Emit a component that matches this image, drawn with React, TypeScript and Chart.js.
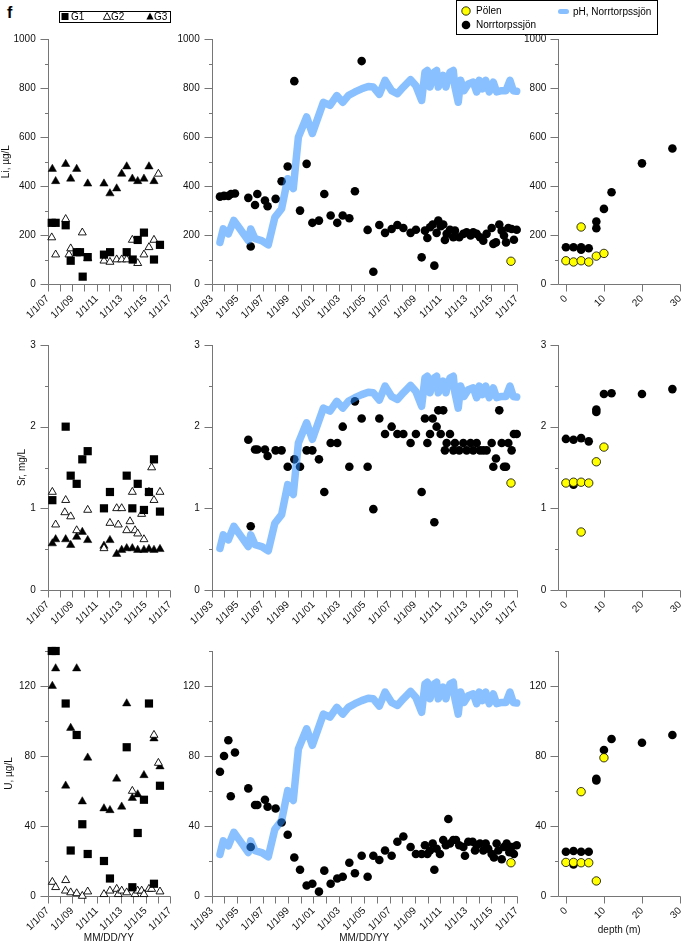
import React, { useEffect, useRef } from 'react';
import { Chart, registerables } from 'chart.js';

Chart.register(...registerables);

type Pt = [number, number];

// ---------------- DATA ----------------
// Left column: group samples (decimal year, value)
const liG1: Pt[] = [[2007.33,250],[2007.65,250],[2008.47,240],[2008.88,95],[2009.37,130],[2009.64,130],[2009.86,30],[2010.27,110],[2011.6,120],[2012.1,130],[2013.46,130],[2013.95,100],[2014.36,180],[2014.87,210],[2015.69,100],[2016.18,160]];
const liG2: Pt[] = [[2007.33,190],[2007.65,120],[2008.47,265],[2008.74,120],[2008.88,145],[2009.83,210],[2010.27,105],[2011.6,95],[2012.09,90],[2012.64,100],[2013.05,100],[2013.46,100],[2013.92,180],[2014.36,85],[2014.87,120],[2015.28,150],[2015.69,180],[2016.05,450]];
const liG3: Pt[] = [[2007.38,470],[2007.65,420],[2008.47,490],[2008.88,430],[2009.37,470],[2010.27,410],[2011.6,410],[2012.09,370],[2012.64,390],[2013.05,450],[2013.46,480],[2013.92,430],[2014.36,420],[2014.87,430],[2015.28,480],[2015.69,420]];

const srG1: Pt[] = [[2007.38,1.1],[2008.47,2.0],[2008.88,1.4],[2009.37,1.3],[2009.83,1.6],[2010.27,1.7],[2011.6,1.0],[2012.09,1.2],[2013.46,1.4],[2013.92,1.0],[2014.36,1.3],[2014.87,0.98],[2015.28,1.2],[2015.69,1.6],[2016.18,0.96]];
const srG2: Pt[] = [[2007.38,1.2],[2007.65,0.8],[2008.47,1.1],[2008.4,0.95],[2008.88,0.9],[2009.37,0.73],[2010.27,0.98],[2011.6,0.51],[2012.09,0.82],[2012.64,1.0],[2012.77,0.8],[2013.05,1.0],[2013.46,0.73],[2013.73,0.84],[2013.92,1.2],[2014.14,0.73],[2014.36,0.69],[2014.68,0.93],[2014.87,0.62],[2015.28,1.2],[2015.5,1.5],[2015.69,1.1],[2016.18,1.2]];
const srG3: Pt[] = [[2007.38,0.57],[2007.65,0.62],[2008.47,0.62],[2008.88,0.55],[2009.37,0.65],[2009.83,0.71],[2010.27,0.61],[2011.6,0.54],[2012.09,0.61],[2012.64,0.44],[2013.05,0.49],[2013.46,0.51],[2013.92,0.51],[2014.36,0.49],[2014.87,0.49],[2015.28,0.5],[2015.69,0.49],[2016.18,0.5]];

const uG1: Pt[] = [[2007.33,140],[2007.65,140],[2008.47,110],[2008.88,26],[2009.37,92],[2009.83,41],[2010.27,24],[2011.6,20],[2012.09,10],[2013.46,85],[2013.92,5],[2014.36,36],[2014.87,55],[2015.28,110],[2015.69,7],[2016.18,63]];
const uG2: Pt[] = [[2007.38,8],[2007.65,5],[2008.47,9],[2008.45,3],[2008.88,2],[2009.37,1.5],[2009.83,0],[2010.27,2.5],[2011.6,1],[2012.09,3],[2012.64,4],[2012.77,1],[2013.05,3],[2013.46,2],[2013.92,60],[2014.14,1],[2014.36,3],[2014.68,3],[2014.87,1],[2015.28,4],[2015.5,4],[2015.69,92],[2016.05,76],[2016.18,2.5]];
const uG3: Pt[] = [[2007.38,120],[2007.65,130],[2008.47,63],[2008.88,96],[2009.37,130],[2009.83,54],[2010.27,79],[2011.6,50],[2012.09,49],[2012.64,67],[2013.05,51],[2013.46,110],[2013.92,56],[2014.36,58],[2014.87,69],[2015.69,90],[2016.18,74]];

// Middle column: Norrtorpssjön time series (decimal year, value)
const liNorr: Pt[] = [[1993.65,357],[1993.97,360],[1994.31,360],[1994.52,368],[1994.83,370],[1995.88,352],[1996.07,153],[1996.41,323],[1996.59,368],[1997.19,341],[1997.4,318],[1998.03,348],[1998.5,420],[1998.98,480],[1999.5,829],[1999.95,300],[2000.47,491],[2000.92,250],[2001.44,259],[2001.86,368],[2002.36,280],[2002.88,250],[2003.31,280],[2003.83,269],[2004.27,379],[2004.8,911],[2005.27,221],[2005.72,50],[2006.19,241],[2006.64,209],[2007.16,225],[2007.61,241],[2008.08,229],[2008.65,209],[2009.07,222],[2009.52,109],[2009.78,218],[2009.97,188],[2010.18,232],[2010.39,243],[2010.52,75],[2010.7,209],[2010.83,259],[2011.02,236],[2011.22,243],[2011.35,180],[2011.49,205],[2011.75,222],[2012.01,191],[2012.14,218],[2012.48,191],[2012.8,205],[2013.06,211],[2013.37,198],[2013.58,211],[2013.85,205],[2014.11,191],[2014.37,177],[2014.63,205],[2015.03,229],[2015.16,164],[2015.37,170],[2015.63,243],[2015.82,218],[2016.0,198],[2016.16,170],[2016.34,229],[2016.6,225],[2016.78,181],[2017.0,222]];
const srNorr: Pt[] = [[1995.88,1.84],[1996.07,0.78],[1996.41,1.72],[1996.59,1.72],[1997.19,1.72],[1997.4,1.64],[1998.03,1.71],[1998.5,1.71],[1998.98,1.51],[1999.5,1.6],[1999.95,1.51],[2000.47,1.71],[2000.92,1.71],[2001.44,1.6],[2001.86,1.2],[2002.36,1.8],[2002.88,1.8],[2003.31,2.0],[2003.83,1.51],[2004.27,2.31],[2004.8,2.1],[2005.27,1.51],[2005.72,0.99],[2006.19,2.1],[2006.64,1.91],[2007.16,2.0],[2007.61,1.91],[2008.08,1.91],[2008.65,1.8],[2009.07,1.91],[2009.52,1.2],[2009.78,2.1],[2009.97,1.8],[2010.18,1.91],[2010.39,2.1],[2010.52,0.83],[2010.7,2.0],[2010.83,2.2],[2011.02,1.91],[2011.22,2.2],[2011.35,1.71],[2011.49,1.8],[2011.75,1.91],[2012.01,1.71],[2012.14,1.8],[2012.48,1.71],[2012.8,1.8],[2013.06,1.71],[2013.37,1.8],[2013.58,1.71],[2013.85,1.8],[2014.11,1.71],[2014.37,1.71],[2014.63,1.71],[2015.03,1.8],[2015.16,1.51],[2015.37,1.61],[2015.63,2.2],[2015.82,1.8],[2016.0,1.51],[2016.16,1.51],[2016.34,1.8],[2016.6,1.71],[2016.78,1.91],[2017.0,1.91]];
const uNorr: Pt[] = [[1993.65,71],[1993.97,80],[1994.31,89],[1994.5,57],[1994.83,82],[1995.88,61.5],[1996.07,28],[1996.41,52],[1996.59,52],[1997.19,55],[1997.4,51],[1998.03,50],[1998.5,42],[1998.98,35],[1999.5,22],[1999.95,15],[2000.47,6],[2000.92,7],[2001.44,2.5],[2001.86,14.5],[2002.36,7],[2002.88,10],[2003.31,11],[2003.83,19],[2004.27,13],[2004.8,23],[2005.27,11],[2005.72,23],[2006.19,20.6],[2006.64,26],[2007.16,23],[2007.61,31],[2008.08,34],[2008.65,28],[2009.07,24],[2009.52,24],[2009.78,29],[2009.97,24],[2010.18,26],[2010.39,30],[2010.52,15],[2010.7,27],[2010.96,24],[2011.22,32],[2011.43,29],[2011.62,44],[2011.75,30],[2012.01,32],[2012.22,32],[2012.48,29],[2012.8,28],[2012.93,23],[2013.19,31],[2013.53,31],[2013.72,26],[2013.85,29],[2014.11,30],[2014.37,26],[2014.56,30],[2014.76,27],[2015.03,24],[2015.21,22],[2015.42,30],[2015.55,26],[2015.82,21],[2016.0,28],[2016.21,30],[2016.42,25],[2016.6,28],[2016.78,24],[2017.0,29]];
const liPolen: Pt[] = [[2016.55,93]];
const srPolen: Pt[] = [[2016.55,1.31]];
const uPolen: Pt[] = [[2016.55,19]];

// pH of Norrtorpssjön (decimal year, pH) on a hidden 4–8 axis
const phNorr: Pt[] = [[1993.65,4.68],[1993.91,4.9],[1994.31,4.82],[1994.74,5.04],[1995.23,4.9],[1995.88,4.71],[1996.07,4.9],[1996.41,4.74],[1996.93,4.71],[1997.45,4.64],[1997.97,5.09],[1998.5,5.23],[1998.98,5.72],[1999.42,5.56],[1999.82,6.4],[2000.47,6.73],[2000.92,6.46],[2001.79,6.97],[2002.31,6.92],[2002.84,7.08],[2003.31,6.97],[2003.75,7.08],[2004.27,7.14],[2004.8,7.19],[2005.32,7.23],[2005.72,7.22],[2006.19,7.1],[2006.64,7.33],[2007.16,7.16],[2007.61,7.11],[2008.08,7.22],[2008.65,7.34],[2009.07,7.24],[2009.52,7.0],[2009.78,7.46],[2009.97,7.49],[2010.18,7.22],[2010.49,7.46],[2010.7,7.49],[2010.83,7.22],[2011.22,7.41],[2011.43,7.22],[2011.75,7.46],[2012.01,7.49],[2012.14,7.22],[2012.4,6.97],[2012.59,7.33],[2012.85,7.16],[2013.19,7.27],[2013.58,7.3],[2013.85,7.14],[2014.06,7.33],[2014.32,7.19],[2014.56,7.33],[2014.84,7.14],[2015.16,7.3],[2015.42,7.14],[2015.82,7.16],[2016.16,7.16],[2016.47,7.33],[2016.73,7.16],[2017.0,7.15]];
const phAxisRange: [number, number] = [4, 8];

// Right column: depth profiles (depth m, value)
const liNorrDepth: Pt[] = [[0,150],[2,150],[4,150],[4,140],[6,146],[8,255],[8,228],[10,307],[12,375],[20,493],[28,554]];
const liPolenDepth: Pt[] = [[0,95],[2,90],[4,95],[6,90],[8,114],[10,125],[4,233]];
const srNorrDepth: Pt[] = [[2,1.29],[0,1.85],[2,1.84],[4,1.86],[6,1.82],[8,2.21],[8,2.18],[10,2.4],[12,2.41],[20,2.4],[28,2.46]];
const srPolenDepth: Pt[] = [[0,1.31],[2,1.32],[4,1.32],[6,1.31],[4,0.71],[8,1.57],[10,1.75]];
const uNorrDepth: Pt[] = [[2,18],[0,25.3],[2,25.7],[4,25.3],[6,25.3],[8,67],[8,66],[10,83.4],[12,89.7],[20,87.6],[28,92]];
const uPolenDepth: Pt[] = [[0,19.2],[2,19.2],[4,19],[6,19],[8,8.6],[4,59.6],[10,79]];

// Ticks
const groupYears = [2007,2008,2009,2010,2011,2012,2013,2014,2015,2016,2017];
const lakeYears = [1993,1994,1995,1996,1997,1998,1999,2000,2001,2002,2003,2004,2005,2006,2007,2008,2009,2010,2011,2012,2013,2014,2015,2016,2017];
const depthTicks = [0, 10, 20, 30];
const liTicks = [0,100,200,300,400,500,600,700,800,900,1000];
const srTicks = [0,0.5,1,1.5,2,2.5,3];
const uTicks = [0,20,40,60,80,100,120,140];

// ---------------- STYLE / LAYOUT ----------------
const FONT = "'Liberation Sans', Arial, Helvetica, sans-serif";
const AXIS_COLOR = '#767676';
const PH_COLOR = 'rgba(40,140,255,0.55)';

const toXY = (a: Pt[]) => a.map(([x, y]) => ({ x, y }));
const dateLabel = (v: number) => ((Math.round(v) - 1993) % 2 === 0 ? '1/1/' + String(Math.round(v) % 100).padStart(2, '0') : '');

const COLS: any = {
  g: { cx: 0, cw: 184, L: 47.7, R: 170, xMin: 2007, xMax: 2017, xTicks: groupYears, xLabel: dateLabel },
  n: { cx: 172, cw: 359, L: 211.7, R: 516.7, xMin: 1993, xMax: 2017, xTicks: lakeYears, xLabel: dateLabel },
  d: { cx: 518, cw: 167, L: 558.3, R: 680.3, xMin: -2, xMax: 30, xTicks: depthTicks, xLabel: (v: number) => String(v) },
};
const ROWS: any = {
  li: { cy: 29, ch: 300, T: 39.3, B: 284, yMax: 1000, yTicks: liTicks, yMajor: 200 },
  sr: { cy: 335, ch: 300, T: 345, B: 590, yMax: 3, yTicks: srTicks, yMajor: 1 },
  u: { cy: 641, ch: 305, T: 651, B: 896, yMax: 140, yTicks: uTicks, yMajor: 40 },
};

const blackDots = (d: Pt[]) => ({ data: toXY(d), pointStyle: 'circle', pointRadius: 4.3, pointBackgroundColor: '#000', pointBorderWidth: 0, clip: false });
const yellowDots = (d: Pt[]) => ({ data: toXY(d), pointStyle: 'circle', pointRadius: 4.2, pointBackgroundColor: '#ffff00', pointBorderColor: '#000', pointBorderWidth: 0.8, clip: false });
const phLine = () => ({ data: toXY(phNorr), yAxisID: 'yph', showLine: true, borderColor: PH_COLOR, borderWidth: 7.5, pointRadius: 0, borderJoinStyle: 'round', borderCapStyle: 'round', tension: 0, clip: false });
const g1Set = (d: Pt[]) => ({ data: toXY(d), pointStyle: 'rect', pointRadius: 5.8, pointBackgroundColor: '#000', pointBorderWidth: 0, clip: false });
const g2Set = (d: Pt[]) => ({ data: toXY(d), pointStyle: 'triangle', pointRadius: 4.6, pointBackgroundColor: '#fff', pointBorderColor: '#000', pointBorderWidth: 0.9, clip: false });
const g3Set = (d: Pt[]) => ({ data: toXY(d), pointStyle: 'triangle', pointRadius: 4.8, pointBackgroundColor: '#000', pointBorderColor: '#000', pointBorderWidth: 0.5, clip: false });

const axesPlugin = {
  id: 'axesTicks',
  beforeDatasetsDraw(chart: any) {
    const { ctx, chartArea: a } = chart;
    const xs = chart.scales.x;
    const ys = chart.scales.y;
    const xl = Math.round(a.left) + 0.5;
    const yb = Math.round(a.bottom) + 0.5;
    ctx.save();
    ctx.strokeStyle = AXIS_COLOR;
    ctx.lineWidth = 1;
    ctx.beginPath();
    ctx.moveTo(xl, Math.round(a.top));
    ctx.lineTo(xl, yb);
    ctx.lineTo(Math.round(a.right) + 0.5, yb);
    for (const t of ys.ticks) {
      const py = Math.round(ys.getPixelForValue(t.value)) + 0.5;
      const len = t.label ? 8 : 3.5;
      ctx.moveTo(xl - len, py);
      ctx.lineTo(xl, py);
    }
    for (const t of xs.ticks) {
      const px = Math.round(xs.getPixelForValue(t.value)) + 0.5;
      ctx.moveTo(px, yb);
      ctx.lineTo(px, yb + 7);
    }
    ctx.stroke();
    ctx.restore();
  },
};

function buildConfig(p: any) {
  const c = COLS[p.col];
  const r = ROWS[p.row];
  const yw = c.L - c.cx;
  const pt = r.T - r.cy;
  const xh = r.cy + r.ch - r.B;
  const pr = c.cx + c.cw - c.R;
  const font = { family: FONT, size: 10 };
  const zeroPad = (s: any) => { s.paddingLeft = 0; s.paddingRight = 0; s.paddingTop = 0; s.paddingBottom = 0; };
  const scales: any = {
    x: {
      type: 'linear', min: c.xMin, max: c.xMax,
      afterBuildTicks: (s: any) => { s.ticks = c.xTicks.map((v: number) => ({ value: v })); },
      afterFit: (s: any) => { s.height = xh; zeroPad(s); },
      grid: { display: false, drawTicks: true, tickLength: 7 },
      border: { display: false },
      ticks: { autoSkip: false, minRotation: 45, maxRotation: 45, padding: 2, color: '#111', font, callback: (v: any) => c.xLabel(Number(v)) },
      title: p.xTitle ? { display: true, text: p.xTitle, color: '#111', font, padding: { top: 0, bottom: p.xTitlePad } } : { display: false },
    },
    y: {
      type: 'linear', position: 'left', min: 0, max: r.yMax,
      afterBuildTicks: (s: any) => { s.ticks = r.yTicks.map((v: number) => ({ value: v })); },
      afterFit: (s: any) => { s.width = yw; zeroPad(s); },
      grid: { display: false, drawTicks: true, tickLength: 8 },
      border: { display: false },
      ticks: {
        autoSkip: false, padding: 4, color: '#111', font,
        callback: (v: any) => { const q = Number(v) / r.yMajor; return Math.abs(q - Math.round(q)) < 1e-6 ? String(Number(v)) : ''; },
      },
      title: p.yTitle ? { display: true, text: p.yTitle, color: '#111', font, padding: { top: p.yTitlePad, bottom: 0 } } : { display: false },
    },
  };
  if (p.ph) scales.yph = { type: 'linear', axis: 'y', position: 'right', display: false, min: phAxisRange[0], max: phAxisRange[1] };
  return {
    type: 'scatter',
    data: { datasets: p.datasets },
    options: {
      responsive: false,
      animation: false,
      devicePixelRatio: 1,
      events: [],
      layout: { padding: { left: 0, top: pt, right: pr, bottom: 0 } },
      plugins: { legend: { display: false }, tooltip: { enabled: false } },
      scales,
    },
    plugins: [axesPlugin],
  };
}

const PANELS: any[] = [
  { key: 'g-li', col: 'g', row: 'li', yTitle: 'Li, µg/L', yTitlePad: 0, datasets: [g1Set(liG1), g2Set(liG2), g3Set(liG3)] },
  { key: 'n-li', col: 'n', row: 'li', ph: true, datasets: [phLine(), yellowDots(liPolen), blackDots(liNorr)] },
  { key: 'd-li', col: 'd', row: 'li', datasets: [yellowDots(liPolenDepth), blackDots(liNorrDepth)] },
  { key: 'g-sr', col: 'g', row: 'sr', yTitle: 'Sr, mg/L', yTitlePad: 16, datasets: [g1Set(srG1), g2Set(srG2), g3Set(srG3)] },
  { key: 'n-sr', col: 'n', row: 'sr', ph: true, datasets: [phLine(), yellowDots(srPolen), blackDots(srNorr)] },
  { key: 'd-sr', col: 'd', row: 'sr', datasets: [yellowDots(srPolenDepth), blackDots(srNorrDepth)] },
  { key: 'g-u', col: 'g', row: 'u', yTitle: 'U, µg/L', yTitlePad: 3, xTitle: 'MM/DD/YY', xTitlePad: 2, datasets: [g1Set(uG1), g2Set(uG2), g3Set(uG3)] },
  { key: 'n-u', col: 'n', row: 'u', ph: true, xTitle: 'MM/DD/YY', xTitlePad: 2, datasets: [phLine(), yellowDots(uPolen), blackDots(uNorr)] },
  { key: 'd-u', col: 'd', row: 'u', xTitle: 'depth (m)', xTitlePad: 10, datasets: [yellowDots(uPolenDepth), blackDots(uNorrDepth)] },
];

function Panel({ spec }: { spec: any }) {
  const ref = useRef<HTMLCanvasElement>(null);
  const c = COLS[spec.col];
  const r = ROWS[spec.row];
  useEffect(() => {
    const chart = new Chart(ref.current as HTMLCanvasElement, buildConfig(spec) as any);
    return () => chart.destroy();
  }, []);
  return (
    <canvas
      ref={ref}
      width={c.cw}
      height={r.ch}
      style={{ position: 'absolute', left: c.cx, top: r.cy, width: c.cw, height: r.ch }}
    />
  );
}

const txt = (left: number, center: number): React.CSSProperties => ({
  position: 'absolute', left, top: center - 5.9, fontSize: 10, lineHeight: '12px', whiteSpace: 'nowrap', color: '#000',
});

export default function App() {
  return (
    <div style={{ position: 'absolute', left: 0, top: 0, width: 685, height: 946, fontFamily: FONT, background: '#fff', overflow: 'hidden' }}>
      {PANELS.map((p) => <Panel key={p.key} spec={p} />)}
      <div style={{ position: 'absolute', left: 7, top: 4.5, fontSize: 16, lineHeight: '16px', fontWeight: 'bold' }}>f</div>
      <div style={{ position: 'absolute', left: 59, top: 11, width: 112, height: 12, border: '1px solid #000', boxSizing: 'border-box' }} />
      <div style={{ position: 'absolute', left: 456, top: 0, width: 202, height: 35, border: '1px solid #000', boxSizing: 'border-box' }} />
      <svg width={685} height={40} style={{ position: 'absolute', left: 0, top: 0 }}>
        <rect x={61.5} y={13} width={7} height={7} fill="#000" />
        <polygon points="107,12.6 110.6,19.4 103.4,19.4" fill="#fff" stroke="#000" strokeWidth={0.9} />
        <polygon points="150,12.6 153.6,19.4 146.4,19.4" fill="#000" />
        <circle cx={466} cy={11} r={4.2} fill="#ffff00" stroke="#000" strokeWidth={0.8} />
        <circle cx={466} cy={25} r={4.3} fill="#000" />
        <rect x={558} y={9} width={11} height={5} rx={2.5} fill="rgb(136,192,255)" />
      </svg>
      <div style={txt(71, 16.5)}>G1</div>
      <div style={txt(111, 16.5)}>G2</div>
      <div style={txt(154, 16.5)}>G3</div>
      <div style={txt(476, 11)}>Pölen</div>
      <div style={txt(476, 25)}>Norrtorpssjön</div>
      <div style={txt(573, 11.5)}>pH, Norrtorpssjön</div>
    </div>
  );
}
